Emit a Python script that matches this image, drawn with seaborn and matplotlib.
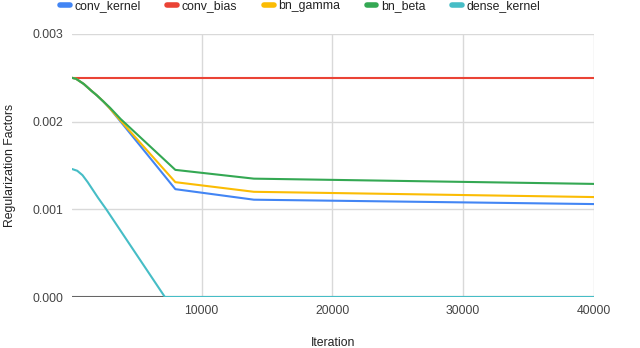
import pandas as pd
import matplotlib.pyplot as plt
import seaborn as sns

sns.set_theme(style="white")
plt.rcParams['font.family'] = ['Liberation Sans', 'DejaVu Sans']

# Dados
iter_main = [100, 400, 700, 1000, 1300, 1600, 2000, 2500, 3000, 3820, 8000, 14000, 40000]
conv_kernel = [0.0025, 0.00249, 0.00246, 0.00243, 0.00239, 0.00235, 0.00230, 0.00223, 0.00215, 0.00200, 0.00123, 0.00111, 0.00106]
bn_gamma = [0.0025, 0.00249, 0.00246, 0.00243, 0.00239, 0.00235, 0.00230, 0.00223, 0.00215, 0.00201, 0.00131, 0.00120, 0.00114]
bn_beta = [0.0025, 0.00249, 0.00246, 0.00243, 0.00239, 0.00235, 0.00230, 0.00223, 0.00216, 0.00203, 0.00145, 0.00135, 0.00129]
iter_bias = [100, 40000]
conv_bias = [0.0025, 0.0025]
iter_dense = [100, 500, 900, 1300, 1700, 2100, 2720, 7200, 40000]
dense_kernel = [0.00146, 0.00144, 0.00139, 0.00131, 0.00122, 0.00113, 0.00100, 0.0, 0.0]

series = [
    ("conv_kernel", iter_main, conv_kernel),
    ("conv_bias", iter_bias, conv_bias),
    ("bn_gamma", iter_main, bn_gamma),
    ("bn_beta", iter_main, bn_beta),
    ("dense_kernel", iter_dense, dense_kernel),
]
df = pd.concat(
    [pd.DataFrame({"Iteration": x, "value": y, "var": name}) for name, x, y in series],
    ignore_index=True,
)

cores = ["#4285F4", "#EA4335", "#FBBC04", "#34A853", "#46BDC6"]

fig = plt.figure(figsize=(6.4, 3.48), dpi=100)
ax = fig.add_axes([72 / 640, 1 - 297 / 348, (594 - 72) / 640, (297 - 34) / 348])

sns.lineplot(data=df, x="Iteration", y="value", hue="var", palette=cores,
             linewidth=1.5, ax=ax, legend=True, zorder=3)

ax.set_xlim(100, 40000)
ax.set_ylim(0, 0.003)
ax.set_xticks([10000, 20000, 30000, 40000])
ax.set_yticks([0, 0.001, 0.002, 0.003])
ax.set_yticklabels(["0.000", "0.001", "0.002", "0.003"])
ax.grid(True, color="#d9d9d9", linewidth=1.0)
ax.axhline(0, color="#666666", linewidth=1.5, zorder=2)
for s in ax.spines.values():
    s.set_visible(False)
ax.tick_params(axis="both", length=0, labelsize=8.8, labelcolor="#444444")
ax.tick_params(axis="x", pad=6)
ax.tick_params(axis="y", pad=6.5)
ax.set_xlabel("Iteration", fontsize=8.8, color="#222222", labelpad=14.5)
ax.set_ylabel("Regularization Factors", fontsize=8.8, color="#222222", labelpad=11.5)

handles, labels = ax.get_legend_handles_labels()
for h in handles:
    h.set_linewidth(4)
ax.get_legend().remove()
fig.legend(handles, labels, loc="center left", bbox_to_anchor=(60 / 640, 1 - 6 / 348),
           ncol=5, frameon=False, fontsize=8.8, handlelength=0.8, handletextpad=0.4,
           columnspacing=2.15, borderpad=0, borderaxespad=0, labelcolor="#222222")

fig.savefig("out.png", dpi=100)
